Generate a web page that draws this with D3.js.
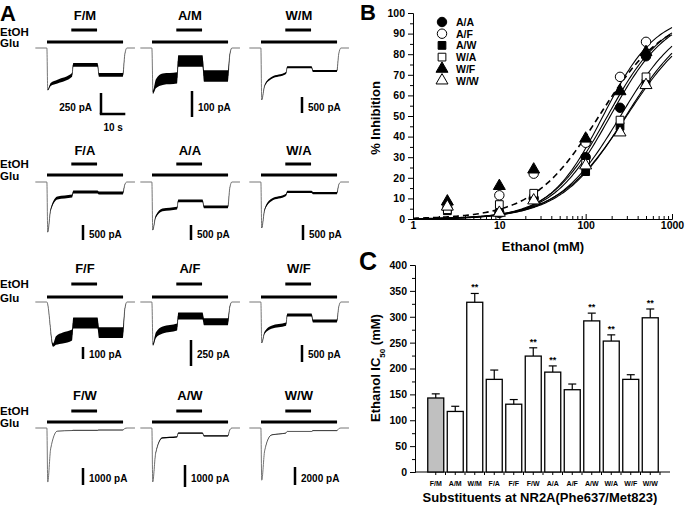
<!DOCTYPE html>
<html>
<head>
<meta charset="utf-8">
<script src="https://cdn.jsdelivr.net/npm/d3@7"></script>
<style>
body { margin: 0; background: #fff; }
svg text { font-family: "Liberation Sans", Arial, sans-serif; font-weight: bold; fill: #000; }
</style>
</head>
<body>
<script>
// ---- panel A: current traces (pA) ----
var traceNames = ["F/M", "A/M", "W/M", "F/A", "A/A", "W/A", "F/F", "A/F", "W/F", "F/W", "A/W", "W/W"];
var scalePA  = [250, 100, 500, 500, 500, 500, 100, 250, 500, 1000, 1000, 2000];
var peakPA   = [500, 170, 1620, 1670, 1600, 1530, 360, 410, 1200, 3180, 2450, 5800];
var earlyPA  = [400, 120, 940, 530, 930, 600, 300, 270, 740, 180, 450, 780];
var latePA   = [320, 115, 780, 470, 870, 430, 275, 240, 650, 150, 400, 550];
var etohPA   = [200, 50, 600, 330, 630, 330, 175, 135, 380, 130, 230, 380];
var washPA   = [320, 108, 720, 370, 830, 370, 255, 190, 560, 120, 360, 300];
var noisePA  = [22, 22, 32, 50, 45, 40, 45, 34, 45, 10, 30, 20];
var riseS    = [0.3, 0.4, 0.3, 0.3, 0.3, 0.3, 2.5, 0.4, 0.3, 0.3, 0.3, 0.3];
var gluTimes = [0, 31.3];
var etohTimes = [10, 20.6];

// ---- panel B: concentration-response ----
var conc = [2.5, 10, 25, 100, 250, 500];
var seriesNames = ["A/A", "A/F", "A/W", "W/A", "W/F", "W/W"];
var inhAA = [5, 3, 10, 30, 54, 79];
var inhAF = [7, 11.5, 22, 37, 69, 86];
var inhAW = [4, 3, 10, 23, 45, 66];
var inhWA = [4.5, 7, 12.5, 27, 48, 69];
var inhWF = [8.5, 16, 24, 39, 62, 81];
var inhWW = [6, 3, 9, 26, 42, 65];
var fitIC50 = [193, 159, 292, 253, 179, 298];
var fitSlope = [1.3, 1.4, 1.15, 1.2, 1.3, 1.1];
var wtIC50 = 143, wtSlope = 1.13;

// ---- panel C: IC50 bars ----
var barLabels = ["F/M", "A/M", "W/M", "F/A", "F/F", "F/W", "A/A", "A/F", "A/W", "W/A", "W/F", "W/W"];
var ic50Mean = [143, 117, 328, 179, 131, 224, 193, 159, 292, 253, 179, 298];
var ic50Sem  = [8, 10, 17, 18, 9, 16, 12, 11, 15, 12, 9, 17];
var ic50Sig  = [false, false, true, false, false, true, true, false, true, true, false, true];

var w = 685, h = 508;
var svg = d3.select("body").append("svg").attr("width", w).attr("height", h);

// panel letters
svg.append("text").attr("x", 0).attr("y", 20.5).style("font-size", "22px").text("A");
svg.append("text").attr("x", 360).attr("y", 20).style("font-size", "22px").text("B");
svg.append("text").attr("x", 359).attr("y", 270).style("font-size", "25px").text("C");

// ===== Panel A =====
var colX = [47, 152, 261];
var rowBase = [48, 182, 302, 428];
var rowLabelY = [20, 155, 273, 400];
var rowEtohY = [30, 164, 284, 411];
var rowGluY = [42, 175, 297, 422];
var etohLabelY = [36, 168, 288, 415];
var gluLabelY = [47, 180, 302, 427];
var barPx = [21, 26, 16, 15, 15, 15, 12, 26, 17, 17, 22, 18];
var sbX = [101, 192, 302, 83, 191, 303, 83, 191, 302, 83, 185, 295];
var sbBottom = [114, 117, 113, 240, 240, 240, 359, 366, 362, 485, 487, 485];
var sbTextY = [110.5, 237.5, 357.5, 481.5];

var tx = d3.scaleLinear().domain([0, 10]).range([0, 24.3]);
var gA = svg.append("g");

rowBase.forEach(function(base, r) {
  gA.append("text").attr("x", 0).attr("y", etohLabelY[r]).style("font-size", "11.5px").text("EtOH");
  gA.append("text").attr("x", 0).attr("y", gluLabelY[r]).style("font-size", "11.5px").text("Glu");
});

traceNames.forEach(function(name, k) {
  var r = Math.floor(k / 3), c = k % 3;
  var x0 = colX[c], base = rowBase[r];
  var g = gA.append("g");
  var ys = d3.scaleLinear().domain([0, scalePA[k]]).range([0, barPx[k]]);
  var xs = function(t) { return x0 + tx(t); };

  g.append("text").attr("x", xs(15.6)).attr("y", rowLabelY[r])
    .attr("text-anchor", "middle").style("font-size", "13px").text(name);
  g.append("line").attr("x1", xs(etohTimes[0])).attr("x2", xs(etohTimes[1]))
    .attr("y1", rowEtohY[r]).attr("y2", rowEtohY[r]).attr("stroke", "#000").attr("stroke-width", 3);
  g.append("line").attr("x1", xs(gluTimes[0])).attr("x2", xs(gluTimes[1]))
    .attr("y1", rowGluY[r]).attr("y2", rowGluY[r]).attr("stroke", "#000").attr("stroke-width", 3);

  var rs = riseS[k];
  var mid = earlyPA[k] + (peakPA[k] - earlyPA[k]) * 0.35;
  var keys = [
    [-4.8, 0, 0], [-0.05, 0, 0], [rs, peakPA[k], 0.3], [rs + 1.2, mid, 0.8],
    [rs + 4, earlyPA[k], 1], [etohTimes[0] + 0.3, latePA[k], 1], [etohTimes[0] + 0.8, etohPA[k], 1],
    [etohTimes[1] + 0.2, etohPA[k], 1], [etohTimes[1] + 0.8, washPA[k], 1],
    [gluTimes[1] - 0.1, washPA[k], 1], [gluTimes[1] + 0.7, washPA[k] * 0.25, 0.2],
    [gluTimes[1] + 1.6, 0, 0], [36.2, 0, 0]
  ];
  var area = d3.area()
    .x(function(d) { return xs(d[0]); })
    .y0(function(d) { return base + ys(d[1] - d[2] * noisePA[k]); })
    .y1(function(d) { return base + ys(d[1] + d[2] * noisePA[k]); })
    .curve(d3.curveMonotoneX);
  var line = d3.line()
    .x(function(d) { return xs(d[0]); })
    .y(function(d) { return base + ys(d[1]); })
    .curve(d3.curveMonotoneX);
  g.append("path").attr("d", line(keys)).attr("fill", "none").attr("stroke", "#666").attr("stroke-width", 0.9);
  g.append("path").attr("d", area(keys)).attr("fill", "#000");

  // scale bar
  var sb = sbBottom[k];
  g.append("line").attr("x1", sbX[k]).attr("x2", sbX[k]).attr("y1", sb).attr("y2", sb - ys(scalePA[k]))
    .attr("stroke", "#000").attr("stroke-width", 2.5);
  if (k === 0) {
    g.append("line").attr("x1", sbX[k] - 1.2).attr("x2", sbX[k] + tx(10)).attr("y1", sb).attr("y2", sb)
      .attr("stroke", "#000").attr("stroke-width", 2.5);
    g.append("text").attr("x", sbX[k] - 9).attr("y", sbTextY[r]).attr("text-anchor", "end")
      .style("font-size", "10px").text(scalePA[k] + " pA");
    g.append("text").attr("x", sbX[k] + tx(5)).attr("y", 131).attr("text-anchor", "middle")
      .style("font-size", "10px").text("10 s");
  } else {
    g.append("text").attr("x", sbX[k] + 6).attr("y", sbTextY[r])
      .style("font-size", "10px").text(scalePA[k] + " pA");
  }
});

// ===== Panel B =====
var xB = d3.scaleLog().domain([1, 1000]).range([413, 672]);
var yB = d3.scaleLinear().domain([0, 100]).range([219, 13]);
var gB = svg.append("g");

function styleAxis(sel, fs) {
  sel.select(".domain").attr("stroke", "#000").attr("stroke-width", 1);
  sel.selectAll(".tick line").attr("stroke", "#000");
  sel.selectAll(".tick text").style("font-size", fs).style("font-family", "'Liberation Sans', Arial, sans-serif").style("font-weight", "bold");
}

gB.append("g").attr("transform", "translate(413,0)")
  .call(d3.axisLeft(yB).tickValues(d3.range(0, 101, 10)).tickSize(5).tickPadding(3))
  .call(styleAxis, "10.5px");
gB.append("g").attr("transform", "translate(413,0)")
  .call(d3.axisLeft(yB).tickValues(d3.range(5, 100, 10)).tickSize(3).tickFormat(""))
  .call(function(s) { s.select(".domain").remove(); s.selectAll("line").attr("stroke", "#000"); });

var minorLog = [];
[1, 10, 100].forEach(function(dec) { for (var m = 2; m <= 9; m++) minorLog.push(dec * m); });
gB.append("g").attr("transform", "translate(0,219)")
  .call(d3.axisBottom(xB).tickValues([1, 10, 100, 1000]).tickFormat(d3.format("d")).tickSize(-5).tickPadding(3))
  .call(styleAxis, "10.5px");
gB.append("g").attr("transform", "translate(0,219)")
  .call(d3.axisBottom(xB).tickValues(minorLog).tickSize(-3).tickFormat(""))
  .call(function(s) { s.select(".domain").remove(); s.selectAll("line").attr("stroke", "#000"); });

gB.append("text").attr("transform", "translate(380,118) rotate(-90)").attr("text-anchor", "middle")
  .style("font-size", "13px").text("% Inhibition");
gB.append("text").attr("x", 543).attr("y", 251).attr("text-anchor", "middle")
  .style("font-size", "13px").text("Ethanol (mM)");

function hill(ic50, nH) {
  var pts = d3.range(0, 3.001, 0.02).map(function(e) { return Math.pow(10, e); });
  return pts.map(function(c) { return [c, 100 / (1 + Math.pow(ic50 / c, nH))]; });
}
var curveLine = d3.line().x(function(d) { return xB(d[0]); }).y(function(d) { return yB(d[1]); });
fitIC50.forEach(function(ic, i) {
  gB.append("path").attr("d", curveLine(hill(ic, fitSlope[i]))).attr("fill", "none")
    .attr("stroke", "#000").attr("stroke-width", 1.1);
});
gB.append("path").attr("d", curveLine(hill(wtIC50, wtSlope))).attr("fill", "none")
  .attr("stroke", "#000").attr("stroke-width", 1.6).attr("stroke-dasharray", "6,4");

var seriesData = [inhAA, inhAF, inhAW, inhWA, inhWF, inhWW];
var symTypes = [d3.symbolCircle, d3.symbolCircle, d3.symbolSquare, d3.symbolSquare, d3.symbolTriangle, d3.symbolTriangle];
var symSizes = [70, 70, 60, 60, 62, 62];
var symFill = ["#000", "#fff", "#000", "#fff", "#000", "#fff"];

seriesData.forEach(function(vals, i) {
  var sym = d3.symbol().type(symTypes[i]).size(symSizes[i]);
  gB.append("g").selectAll("path").data(vals).enter().append("path")
    .attr("d", sym)
    .attr("transform", function(d, j) { return "translate(" + xB(conc[j]) + "," + yB(d) + ")"; })
    .attr("fill", symFill[i]).attr("stroke", "#000").attr("stroke-width", 1);
});

var legend = gB.selectAll(".legend").data(seriesNames).enter().append("g")
  .attr("class", "legend")
  .attr("transform", function(d, i) { return "translate(442," + (22 + i * 11.7) + ")"; });
legend.append("path")
  .attr("d", function(d, i) { return d3.symbol().type(symTypes[i]).size(symSizes[i])(); })
  .attr("fill", function(d, i) { return symFill[i]; }).attr("stroke", "#000").attr("stroke-width", 1);
legend.append("text").attr("x", 14).attr("y", 4).style("font-size", "10.5px").text(function(d) { return d; });

// ===== Panel C =====
var xC = d3.scaleBand().domain(barLabels).range([426, 660]).paddingInner(0.18).paddingOuter(0.09);
var yC = d3.scaleLinear().domain([0, 400]).range([472, 265]);
var gC = svg.append("g");

gC.append("g").attr("transform", "translate(415,0)")
  .call(d3.axisLeft(yC).tickValues(d3.range(0, 401, 50)).tickSize(5).tickPadding(3))
  .call(styleAxis, "10.5px");
gC.append("g").attr("transform", "translate(415,0)")
  .call(d3.axisLeft(yC).tickValues(d3.range(25, 400, 50)).tickSize(3).tickFormat(""))
  .call(function(s) { s.select(".domain").remove(); s.selectAll("line").attr("stroke", "#000"); });

gC.append("line").attr("x1", 415).attr("x2", 670).attr("y1", 472).attr("y2", 472)
  .attr("stroke", "#000").attr("stroke-width", 1);
var halfTicks = [];
barLabels.forEach(function(l) {
  halfTicks.push(xC(l) + xC.bandwidth() / 2);
  halfTicks.push(xC(l) + xC.bandwidth() / 2 + xC.step() / 2);
});
gC.selectAll(".xt").data(halfTicks).enter().append("line")
  .attr("x1", function(d) { return d; }).attr("x2", function(d) { return d; })
  .attr("y1", 472).attr("y2", 475).attr("stroke", "#000");

gC.selectAll(".bar").data(ic50Mean).enter().append("rect")
  .attr("x", function(d, i) { return xC(barLabels[i]); })
  .attr("y", function(d) { return yC(d); })
  .attr("width", xC.bandwidth())
  .attr("height", function(d) { return 472 - yC(d); })
  .attr("fill", function(d, i) { return i === 0 ? "#c0c0c0" : "#fff"; })
  .attr("stroke", "#000").attr("stroke-width", 1.3);

ic50Mean.forEach(function(m, i) {
  var cx = xC(barLabels[i]) + xC.bandwidth() / 2;
  var top = yC(m + ic50Sem[i]);
  gC.append("line").attr("x1", cx).attr("x2", cx).attr("y1", yC(m)).attr("y2", top).attr("stroke", "#000").attr("stroke-width", 1.2);
  gC.append("line").attr("x1", cx - 4).attr("x2", cx + 4).attr("y1", top).attr("y2", top).attr("stroke", "#000").attr("stroke-width", 1.2);
  if (ic50Sig[i]) {
    gC.append("text").attr("x", cx).attr("y", top - 3).attr("text-anchor", "middle")
      .style("font-size", "9px").text("**");
  }
  gC.append("text").attr("x", cx).attr("y", 486).attr("text-anchor", "middle")
    .style("font-size", "7px").text(barLabels[i]);
});

var yTitle = gC.append("text").attr("transform", "translate(380,368) rotate(-90)").attr("text-anchor", "middle")
  .style("font-size", "13px");
yTitle.append("tspan").text("Ethanol IC");
yTitle.append("tspan").attr("baseline-shift", "sub").style("font-size", "8px").text("50");
yTitle.append("tspan").text(" (mM)");
gC.append("text").attr("x", 540).attr("y", 502).attr("text-anchor", "middle")
  .style("font-size", "13px").text("Substituents at NR2A(Phe637/Met823)");
</script>
</body>
</html>
